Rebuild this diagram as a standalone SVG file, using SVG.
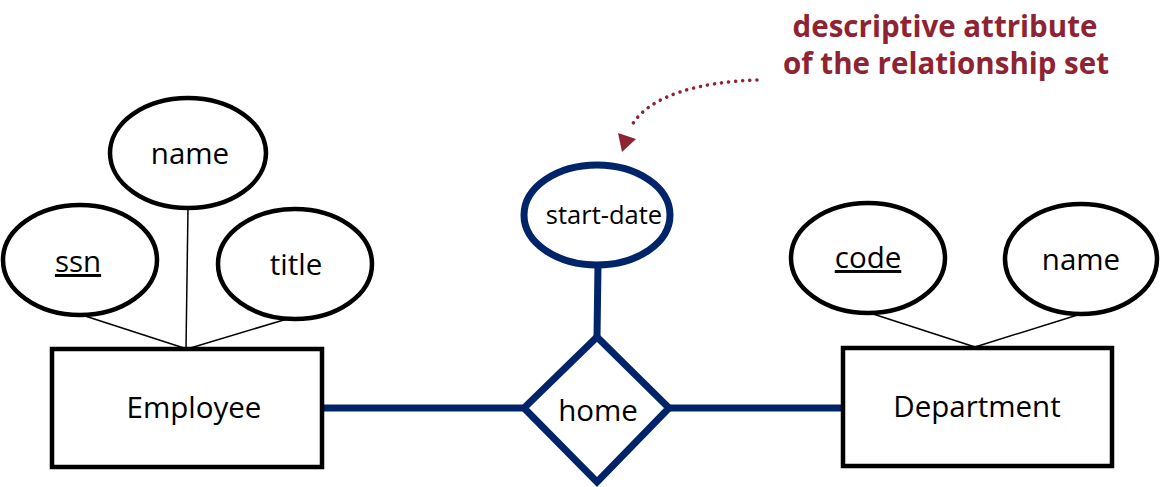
<svg xmlns="http://www.w3.org/2000/svg" width="1165" height="487" viewBox="0 0 1165 487">
<style>
text{font-family:"Open Sans","Noto Sans","DejaVu Sans",sans-serif;fill:#000;text-anchor:middle}
.attr{fill:#fff;stroke:#000;stroke-width:4.5}
.ent{fill:#fff;stroke:#000;stroke-width:4.5}
.thin{stroke:#000;stroke-width:1.5;fill:none}
.rel{stroke:#002469;stroke-width:7;fill:none}
.lbl{font-size:29.5px}
.note{font-size:29.5px;font-weight:bold;fill:#8e2332}
</style>
<g id="connectors">
<line class="thin" x1="82" y1="315" x2="187" y2="349"/>
<line class="thin" x1="188" y1="208" x2="186" y2="349"/>
<line class="thin" x1="297" y1="316" x2="187" y2="349"/>
<line class="thin" x1="870" y1="313" x2="975" y2="347"/>
<line class="thin" x1="1084" y1="313" x2="975" y2="347"/>
<line class="rel" x1="322" y1="408" x2="524" y2="408"/>
<line class="rel" x1="669" y1="408" x2="843" y2="408"/>
<line class="rel" x1="598" y1="265" x2="597" y2="337"/>
<path d="M757,80 C700,82 650,95 632,125" fill="none" stroke="#8e2332" stroke-width="3.5" stroke-dasharray="0.1 7" stroke-linecap="round"/>
<path d="M622,152 L618,133 L636,139 Z" fill="#8e2332"/>
</g>
<g id="ssn"><ellipse class="attr" cx="80" cy="260" rx="77" ry="55"/><text class="lbl" x="78" y="272" text-decoration="underline">ssn</text></g>
<g id="emp-name"><ellipse class="attr" cx="188" cy="153" rx="78" ry="55"/><text class="lbl" x="190" y="164">name</text></g>
<g id="title"><ellipse class="attr" cx="295" cy="264" rx="77" ry="55"/><text class="lbl" x="296" y="275">title</text></g>
<g id="employee"><rect class="ent" x="52" y="349" width="270" height="118"/><text class="lbl" x="194" y="418">Employee</text></g>
<g id="start-date"><ellipse cx="597" cy="215" rx="73" ry="50" fill="#fff" stroke="#002469" stroke-width="7"/><text x="604" y="224" style="font-size:25.5px">start-date</text></g>
<g id="home"><polygon points="597,337 669,408 597,482 524,408" fill="#fff" stroke="#002469" stroke-width="7" stroke-linejoin="miter"/><text class="lbl" x="598" y="421">home</text></g>
<g id="code"><ellipse class="attr" cx="868" cy="258" rx="77" ry="55"/><text class="lbl" x="868" y="268" text-decoration="underline">code</text></g>
<g id="dept-name"><ellipse class="attr" cx="1081" cy="259" rx="76" ry="55"/><text class="lbl" x="1081" y="270">name</text></g>
<g id="department"><rect class="ent" x="843" y="348" width="269" height="118"/><text class="lbl" x="977" y="417">Department</text></g>
<g id="annotation"><text class="note" x="945" y="37">descriptive attribute</text><text class="note" x="946" y="74">of the relationship set</text></g>
</svg>
